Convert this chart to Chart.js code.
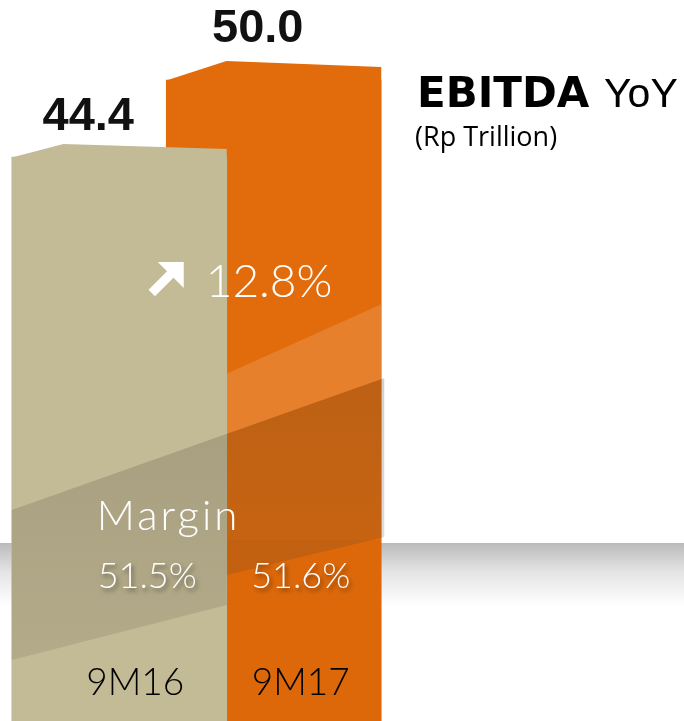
<!DOCTYPE html>
<html>
<head>
<meta charset="utf-8">
<script src="https://cdn.jsdelivr.net/npm/chart.js@4"></script>
<style>
  html, body { margin: 0; padding: 0; background: #fff; }
  #wrap { position: relative; width: 684px; height: 721px; }
</style>
</head>
<body>
<div id="wrap"><canvas id="ebitdaChart"></canvas></div>
<script>
// data
const categories = ['9M16', '9M17'];
const ebitdaValues = [44.4, 50.0];
const marginValues = [51.5, 51.6];
const yoyGrowth = 12.8;
const barColors = ['#c3bb96', '#e26c0b'];

const LIGHT = '"Lato", "Open Sans", sans-serif';

// small look tweaks per bar (top cap shape, label shifts)
const capStyle = [
  { peak: 0.24, rise: 13, right: 8, labelDx: -31, labelDy: 27, marginDx: 28, catDx: 16 },
  { peak: 0.28, rise: 19, right: 13, labelDx: -16, labelDy: 38, marginDx: 27, catDx: 27 }
];

function barOf(chart, i) {
  return chart.getDatasetMeta(i).data[i];
}

const decorPlugin = {
  id: 'decor',
  beforeDraw(chart) {
    const ctx = chart.ctx;
    ctx.save();
    ctx.fillStyle = '#fff';
    ctx.fillRect(0, 0, chart.width, chart.height);
    // floor shadow band
    let g = ctx.createLinearGradient(0, 543, 0, 606);
    g.addColorStop(0, '#bababa');
    g.addColorStop(0.45, '#e4e4e4');
    g.addColorStop(1, '#ffffff');
    ctx.fillStyle = g;
    ctx.fillRect(0, 543, chart.width, 63);
    ctx.restore();
  },
  afterDatasetDraw(chart, args) {
    const i = args.index;
    const bar = barOf(chart, i);
    if (!bar) return;
    const ctx = chart.ctx;
    const s = capStyle[i];
    const left = bar.x - bar.width / 2, right = bar.x + bar.width / 2;
    ctx.save();
    // slanted top
    ctx.fillStyle = barColors[i];
    ctx.beginPath();
    ctx.moveTo(left, bar.y + 0.5);
    ctx.lineTo(left + bar.width * s.peak, bar.y - s.rise);
    ctx.lineTo(right, bar.y - s.right);
    ctx.lineTo(right, bar.y + 0.5);
    ctx.closePath();
    ctx.fill();

    if (i == 1) {
      // light diagonal band on the orange
      ctx.save();
      ctx.beginPath();
      ctx.rect(left, bar.y, bar.width, bar.base - bar.y);
      ctx.clip();
      const slopeA = (304 - 374) / (382 - 226);
      const slopeB = (378 - 510) / (385 - 12);
      ctx.fillStyle = 'rgba(255,255,255,0.14)';
      ctx.beginPath();
      ctx.moveTo(left, 374 + slopeA * (left - 226));
      ctx.lineTo(right, 374 + slopeA * (right - 226));
      ctx.lineTo(right, 510 + slopeB * (right - 12));
      ctx.lineTo(left, 510 + slopeB * (left - 12));
      ctx.closePath();
      ctx.fill();
      // slightly deeper orange lower down
      ctx.fillStyle = 'rgba(120,40,0,0.05)';
      ctx.fillRect(left, 540, bar.width, bar.base - 540);
      ctx.restore();
      // bottom edge sits a little higher than the tan one
      ctx.fillStyle = '#fff';
      ctx.fillRect(left, bar.base - 5, bar.width + 2, 6);
    } else {
      // cut the bottom-left corner
      ctx.fillStyle = '#fff';
      ctx.beginPath();
      ctx.moveTo(left - 1, bar.base - 17);
      ctx.lineTo(left + 45, bar.base + 1);
      ctx.lineTo(left - 1, bar.base + 1);
      ctx.closePath();
      ctx.fill();
    }
    ctx.restore();
  },
  afterDatasetsDraw(chart) {
    const ctx = chart.ctx;
    const tan = barOf(chart, 0), org = barOf(chart, 1);
    const L = tan.x - tan.width / 2, M = tan.x + tan.width / 2;
    const R = org.x + org.width / 2 + 3;

    ctx.save();
    // translucent dark overlay across both bars
    let g = ctx.createLinearGradient(0, 378, 0, 660);
    g.addColorStop(0, 'rgba(70,60,50,0.24)');
    g.addColorStop(1, 'rgba(70,60,50,0.13)');
    ctx.fillStyle = g;
    ctx.beginPath();
    ctx.moveTo(L, 510);
    ctx.lineTo(R, 378);
    ctx.lineTo(R, 537);
    ctx.lineTo(M, 575);
    ctx.lineTo(M, 605);
    ctx.lineTo(L, 660);
    ctx.closePath();
    ctx.fill();

    // value labels
    ctx.fillStyle = '#111';
    ctx.font = 'bold 47px "Liberation Sans", Arial, sans-serif';
    ctx.textAlign = 'center';
    ctx.textBaseline = 'alphabetic';
    [tan, org].forEach((b, i) => {
      ctx.fillText(ebitdaValues[i].toFixed(1), b.x + capStyle[i].labelDx, b.y - capStyle[i].labelDy);
    });

    // title
    ctx.textAlign = 'left';
    ctx.fillStyle = '#000';
    ctx.font = 'bold 42px "DejaVu Sans", sans-serif';
    ctx.fillText('EBITDA', 417, 107);
    ctx.font = '41px "Liberation Sans", Arial, sans-serif';
    ctx.fillText('YoY', 604, 107);
    ctx.font = '27px "Open Sans", sans-serif';
    ctx.fillText('(Rp Trillion)', 415, 146);

    // growth arrow + percentage
    ctx.fillStyle = '#fff';
    const ax = M - 78, ay = 262;
    ctx.beginPath();
    ctx.moveTo(ax + 35, ay);
    ctx.lineTo(ax + 35, ay + 26);
    ctx.lineTo(ax + 9, ay);
    ctx.closePath();
    ctx.fill();
    ctx.strokeStyle = '#fff';
    ctx.lineWidth = 9;
    ctx.beginPath();
    ctx.moveTo(ax + 3, ay + 31);
    ctx.lineTo(ax + 25, ay + 9);
    ctx.stroke();
    ctx.font = '300 46px ' + LIGHT;
    ctx.fillText(yoyGrowth.toFixed(1) + '%', M - 21, 297);

    // margin
    ctx.font = '300 42px ' + LIGHT;
    ctx.letterSpacing = '3px';
    ctx.fillText('Margin', L + 85, 530);
    ctx.letterSpacing = '0px';
    ctx.textAlign = 'center';
    ctx.font = '300 36px ' + LIGHT;
    ctx.shadowColor = 'rgba(0,0,0,0.45)';
    ctx.shadowBlur = 4;
    ctx.shadowOffsetX = 2;
    ctx.shadowOffsetY = 3;
    [tan, org].forEach((b, i) => {
      ctx.fillText(marginValues[i].toFixed(1) + '%', b.x + capStyle[i].marginDx, 588);
    });
    ctx.shadowColor = 'transparent';

    // category names inside the bars
    ctx.fillStyle = '#000';
    ctx.font = '300 37px ' + LIGHT;
    [tan, org].forEach((b, i) => {
      ctx.fillText(categories[i], b.x + capStyle[i].catDx, 695);
    });
    ctx.restore();
  }
};

const ctx = document.getElementById('ebitdaChart').getContext('2d');
const chart = new Chart(ctx, {
  type: 'bar',
  data: {
    labels: categories,
    datasets: ebitdaValues.map((v, i) => ({
      label: categories[i],
      data: categories.map((c, j) => (j === i ? v : null)),
      backgroundColor: barColors[i],
      borderWidth: 0,
      clip: false
    }))
  },
  options: {
    responsive: true,
    maintainAspectRatio: false,
    animation: false,
    layout: { padding: { left: 42, right: 333, top: 0, bottom: 1 } },
    datasets: { bar: { grouped: false, barThickness: 215 } },
    plugins: {
      legend: { display: false },
      tooltip: { enabled: false }
    },
    scales: {
      x: { display: false, offset: true },
      y: { display: false, min: 3.45, max: 55.82 }
    }
  },
  plugins: [decorPlugin]
});
</script>
</body>
</html>
